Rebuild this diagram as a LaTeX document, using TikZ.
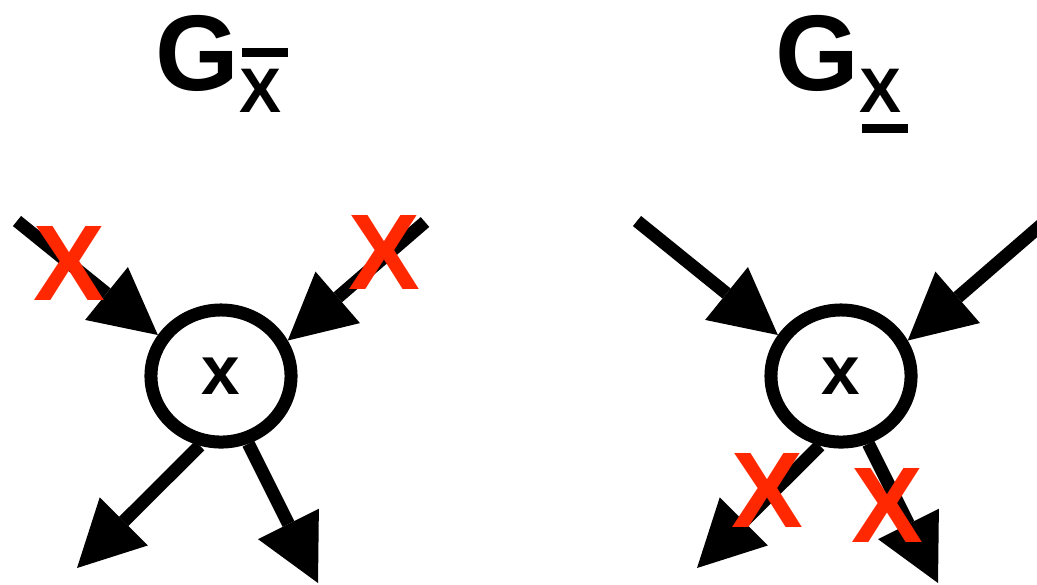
\documentclass[tikz,border=0pt]{standalone}
\usepackage{fontspec}
\setmainfont{Liberation Sans}
\usetikzlibrary{arrows.meta,shapes.geometric}
\definecolor{xred}{RGB}{255,40,0}
\tikzset{
  vnode/.style={ellipse, draw, line width=0.13cm, minimum width=1.40cm, minimum height=1.32cm, inner sep=0pt,
    font=\bfseries\fontsize{19.7}{20}\selectfont},
  edge/.style={line width=0.13cm, -{Triangle[length=0.66cm,width=0.68cm,line width=0pt]}},
  cross/.style={text=xred, font=\bfseries\fontsize{30.6}{31}\selectfont, inner sep=0pt, anchor=base},
  title/.style={font=\bfseries\fontsize{30.6}{31}\selectfont, inner sep=0pt, anchor=base},
  sub/.style={font=\bfseries\fontsize{17.9}{18}\selectfont, inner sep=0pt, anchor=base},
  bar/.style={line width=0.095cm}
}
\begin{document}
\begin{tikzpicture}[x=0.01cm,y=-0.01cm]
\useasboundingbox (0,0) rectangle (1037,584);
% titles
\node[title] (g1) at (197.5,90) {G};
\node[sub] (s1) at (260,112) {X};
\draw[bar] (242,52.5) -- (288,52.5);
\node[title] (g2) at (817.5,90) {G};
\node[sub] (s2) at (880,112) {X};
\draw[bar] (862,128.5) -- (908,128.5);
% left graph
\node[vnode] (a) at (221,376) {x};
\coordinate (a1) at (17,221);
\coordinate (a2) at (425,222);
\coordinate (a3) at (77,568);
\coordinate (a4) at (318,583);
\draw[edge] (a1) -- (a.147);
\draw[edge] (a2) -- (a.28);
\draw[edge] (a.253) -- (a3);
\draw[edge] (a.-68) -- (a4);
% right graph
\node[vnode] (b) at (841,376) {x};
\coordinate (b1) at (637,221);
\coordinate (b2) at (1047,220);
\coordinate (b3) at (697,568);
\coordinate (b4) at (938,583);
\draw[edge] (b1) -- (b.147);
\draw[edge] (b2) -- (b.28);
\draw[edge] (b.253) -- (b3);
\draw[edge] (b.-68) -- (b4);
% red crosses
\node[cross] (c1) at (69,300) {X};
\node[cross] (c2) at (384.5,289) {X};
\node[cross] (c3) at (767,527) {X};
\node[cross] (c4) at (887,542) {X};
\end{tikzpicture}
\end{document}
